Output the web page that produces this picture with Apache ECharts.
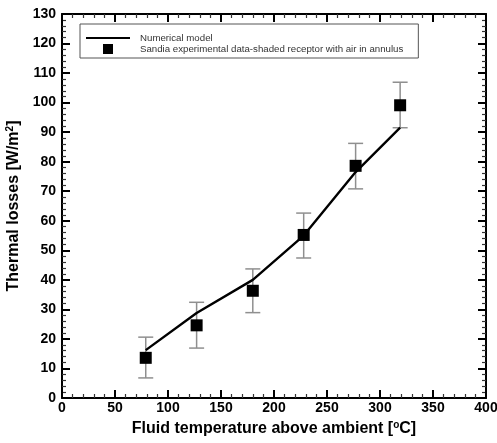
<!DOCTYPE html>
<html>
<head>
<meta charset="utf-8">
<script src="https://cdn.jsdelivr.net/npm/echarts@6/dist/echarts.min.js"></script>
<style>html,body{margin:0;padding:0;background:#fff}#c{width:497px;height:443px}</style>
</head>
<body>
<div id="c"></div>
<script>
// Data
var modelTemps = [79, 127, 180, 228, 277, 319];
var modelLosses = [16.2, 28.8, 40, 55, 76.5, 91.5];
var expTemps = [79, 127, 180, 228, 277, 319];
var expLosses = [13.6, 24.6, 36.3, 55.2, 78.6, 99.1];
var expLow = [6.8, 16.9, 28.9, 47.4, 70.8, 91.5];
var expHigh = [20.6, 32.4, 43.7, 62.6, 86.2, 106.9];
var xTicks = [0, 50, 100, 150, 200, 250, 300, 350, 400];
var yTicks = [0, 10, 20, 30, 40, 50, 60, 70, 80, 90, 100, 110, 120, 130];
var seriesNames = ['Numerical model', 'Sandia experimental data-shaded receptor with air in annulus'];

var chart = echarts.init(document.getElementById('c'), null, {renderer: 'canvas'});
var font = 'Liberation Sans, Arial, sans-serif';

var modelData = modelTemps.map(function (t, i) { return [t, modelLosses[i]]; });
var expData = expTemps.map(function (t, i) { return [t, expLosses[i]]; });
var errData = expTemps.map(function (t, i) { return [t, expLow[i], expHigh[i]]; });

function axisCommon(show) {
  return {
    axisLine: {show: true, onZero: false, lineStyle: {color: '#000', width: 2}},
    axisTick: {show: true, inside: true, length: 8, lineStyle: {color: '#000', width: 2}},
    minorTick: {show: true, splitNumber: 5, length: 4, lineStyle: {color: '#333', width: 1.2}},
    splitLine: {show: false},
    axisLabel: {show: show, color: '#000', fontFamily: font, fontWeight: 'bold', fontSize: 14}
  };
}
var supStyle = {fontSize: 10, fontWeight: 'bold', fontFamily: font, color: '#000', verticalAlign: 'top', padding: [0, 0, 7, 0]};

var xBottom = Object.assign({
  type: 'value', min: xTicks[0], max: xTicks[xTicks.length - 1], interval: xTicks[1] - xTicks[0],
  position: 'bottom',
  name: 'Fluid temperature above ambient [{sup|o}C]', nameLocation: 'middle', nameGap: 22,
  nameTextStyle: {color: '#000', fontFamily: font, fontWeight: 'bold', fontSize: 16, rich: {sup: supStyle}}
}, axisCommon(true));
xBottom.axisLabel.margin = 3;
var xTop = Object.assign({
  type: 'value', min: xTicks[0], max: xTicks[xTicks.length - 1], interval: xTicks[1] - xTicks[0],
  position: 'top'
}, axisCommon(false));
var yLeft = Object.assign({
  type: 'value', min: yTicks[0], max: yTicks[yTicks.length - 1], interval: yTicks[1] - yTicks[0],
  position: 'left',
  name: 'Thermal losses [W/m{sup|2}]', nameLocation: 'middle', nameGap: 29, nameRotate: 90,
  nameTextStyle: {color: '#000', fontFamily: font, fontWeight: 'bold', fontSize: 16, rich: {sup: supStyle}}
}, axisCommon(true));
yLeft.axisLabel.margin = 6;
var yRight = Object.assign({
  type: 'value', min: yTicks[0], max: yTicks[yTicks.length - 1], interval: yTicks[1] - yTicks[0],
  position: 'right'
}, axisCommon(false));

chart.setOption({
  animation: false,
  backgroundColor: '#fff',
  grid: {left: 62, right: 11, top: 14, bottom: 45, containLabel: false, outerBoundsMode: 'none'},
  xAxis: [xBottom, xTop],
  yAxis: [yLeft, yRight],
  legend: {
    orient: 'vertical', left: 80, top: 24,
    data: [
      {name: seriesNames[0], icon: 'path://M0,0L44,0L44,2.2L0,2.2Z'},
      {name: seriesNames[1], icon: 'path://M0,0L10,0L10,10L0,10Z'}
    ],
    symbolKeepAspect: true,
    itemWidth: 44, itemHeight: 10, itemGap: 1,
    padding: [9, 15, 4, 6],
    borderColor: '#555', borderWidth: 1, backgroundColor: '#fff',
    textStyle: {fontFamily: font, fontSize: 9.7, color: '#333', padding: [0, 0, 0, 5]}
  },
  series: [
    {
      name: seriesNames[0], type: 'line', data: modelData, symbol: 'none',
      lineStyle: {color: '#000', width: 2.4}, itemStyle: {color: '#000'}, z: 3
    },
    {
      name: 'err', type: 'custom', data: errData, z: 2,
      renderItem: function (params, api) {
        var x = api.value(0);
        var lo = api.coord([x, api.value(1)]);
        var hi = api.coord([x, api.value(2)]);
        var cap = 7.5;
        var st = {stroke: '#8f8f8f', lineWidth: 1.5};
        return {type: 'group', children: [
          {type: 'line', shape: {x1: lo[0], y1: lo[1], x2: hi[0], y2: hi[1]}, style: st},
          {type: 'line', shape: {x1: lo[0] - cap, y1: lo[1], x2: lo[0] + cap, y2: lo[1]}, style: st},
          {type: 'line', shape: {x1: hi[0] - cap, y1: hi[1], x2: hi[0] + cap, y2: hi[1]}, style: st}
        ]};
      }
    },
    {
      name: seriesNames[1], type: 'scatter', data: expData, symbol: 'rect', symbolSize: 12,
      itemStyle: {color: '#000', opacity: 1}, z: 4
    }
  ]
});
</script>
</body>
</html>
